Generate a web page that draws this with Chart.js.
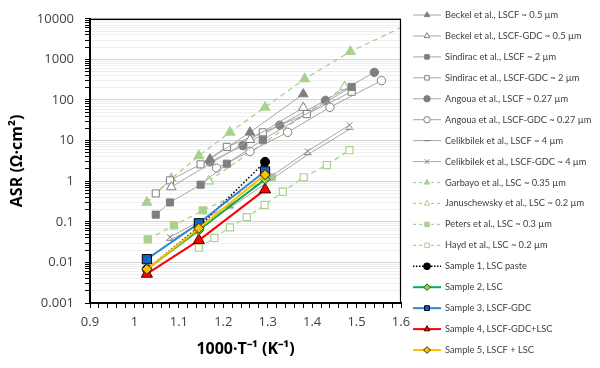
<!DOCTYPE html>
<html><head><meta charset="utf-8">
<script src="https://cdn.jsdelivr.net/npm/chart.js@4.4.1/dist/chart.umd.min.js"></script>
<style>html,body{margin:0;padding:0;background:#fff}canvas{display:block}</style>
</head><body>
<canvas id="c" width="600" height="368"></canvas>
<script>
// ---- data ----
const xTickLabels = ['0.9', '1', '1.1', '1.2', '1.3', '1.4', '1.5', '1.6'];
const yTickLabels = ['0.001', '0.01', '0.1', '1', '10', '100', '1000', '10000'];

const seriesNames = [
  'Beckel et al., LSCF ~ 0.5 µm',
  'Beckel et al., LSCF-GDC ~ 0.5 µm',
  'Sindirac et al., LSCF ~ 2 µm',
  'Sindirac et al., LSCF-GDC ~ 2 µm',
  'Angoua et al., LSCF ~ 0.27 µm',
  'Angoua et al., LSCF-GDC ~ 0.27 µm',
  'Celikbilek et al., LSCF ~ 4 µm',
  'Celikbilek et al., LSCF-GDC ~ 4 µm',
  'Garbayo et al., LSC ~ 0.35 µm',
  'Januschewsky et al., LSC ~ 0.2 µm',
  'Peters et al., LSC ~ 0.3 µm',
  'Hayd et al., LSC ~ 0.2 µm',
  'Sample 1, LSC paste',
  'Sample 2, LSC',
  'Sample 3, LSCF-GDC',
  'Sample 4, LSCF-GDC+LSC',
  'Sample 5, LSCF + LSC'
];

const beckelLscfX = [1.17, 1.26, 1.38];
const beckelLscfY = [3.5, 16, 140];
const beckelGdcX = [1.083, 1.26, 1.38];
const beckelGdcY = [0.72, 10.5, 65];
const sindiracLscfX = [1.048, 1.08, 1.149, 1.208, 1.289, 1.489];
const sindiracLscfY = [0.15, 0.3, 0.82, 2.7, 10.5, 210];
const sindiracGdcX = [1.048, 1.08, 1.149, 1.208, 1.289, 1.388, 1.489];
const sindiracGdcY = [0.5, 1.05, 2.6, 7, 16, 45, 160];
const angouaLscfX = [1.17, 1.244, 1.327, 1.43, 1.54];
const angouaLscfY = [3, 7.5, 24, 98, 480];
const angouaGdcX = [1.185, 1.26, 1.345, 1.44, 1.556];
const angouaGdcY = [2.1, 5.4, 16, 66, 300];
const celikLscfX = [1.08, 1.215, 1.39, 1.484];
const celikLscfY = [0.035, 0.22, 4.5, 19];
const celikGdcX = [1.08, 1.215, 1.39, 1.484];
const celikGdcY = [0.042, 0.26, 5.5, 24];
const garbayoX = [1.028, 1.083, 1.145, 1.215, 1.294, 1.383, 1.486, 1.65];
const garbayoY = [0.3, 1.15, 4.2, 16, 66, 330, 1550, 11000];
const januschX = [1.167, 1.473];
const januschY = [1.0, 210];
const petersX = [1.03, 1.089, 1.154, 1.309];
const petersY = [0.037, 0.082, 0.19, 1.25];
const haydX = [1.145, 1.18, 1.215, 1.253, 1.293, 1.334, 1.381, 1.433, 1.484];
const haydY = [0.023, 0.04, 0.073, 0.13, 0.26, 0.55, 1.25, 2.5, 5.8];
const sampleX = [1.028, 1.145, 1.294];
const sample1Y = [0.0068, 0.075, 3.0];
const sample2Y = [0.0068, 0.062, 1.12];
const sample3Y = [0.012, 0.092, 1.75];
const sample4Y = [0.0052, 0.035, 0.62];
const sample5Y = [0.0068, 0.069, 1.45];

// ---- styling ----
const pts = (xs, ys) => xs.map((x, i) => ({x, y: ys[i]}));
const GRAY = '#7f7f7f', GLINE = '#a6a6a6', GREEN = '#a9d18e';
function gray(label, xs, ys, style, hollow, r) {
  return {label, data: pts(xs, ys), showLine: true, borderColor: GLINE, borderWidth: 1,
    pointStyle: style, pointRadius: r, pointBackgroundColor: hollow ? '#ffffff' : GRAY,
    pointBorderColor: GRAY, pointBorderWidth: 1, order: 10, legendRadius: 3.2, legendLine: 1};
}
function green(label, xs, ys, style, hollow, r) {
  return {label, data: pts(xs, ys), showLine: true, borderColor: GREEN, borderWidth: 1.3,
    borderDash: [5, 4], pointStyle: style, pointRadius: r,
    pointBackgroundColor: hollow ? '#ffffff' : GREEN, pointBorderColor: GREEN, pointBorderWidth: 1.2,
    order: 10, legendRadius: 3.2, legendLine: 1.2};
}
function sample(label, ys, line, fill, border, style, r, order, dash) {
  return {label, data: pts(sampleX, ys), showLine: true, borderColor: line, borderWidth: dash ? 1.5 : 2,
    borderDash: dash || [], pointStyle: style, pointRadius: r, pointBackgroundColor: fill,
    pointBorderColor: border, pointBorderWidth: 1, order, legendRadius: 3.4, legendLine: dash ? 1.5 : 2};
}

const datasets = [
  gray(seriesNames[0], beckelLscfX, beckelLscfY, 'triangle', false, 5.5),
  gray(seriesNames[1], beckelGdcX, beckelGdcY, 'triangle', true, 5.5),
  gray(seriesNames[2], sindiracLscfX, sindiracLscfY, 'rect', false, 5),
  gray(seriesNames[3], sindiracGdcX, sindiracGdcY, 'rect', true, 5),
  gray(seriesNames[4], angouaLscfX, angouaLscfY, 'circle', false, 4.2),
  gray(seriesNames[5], angouaGdcX, angouaGdcY, 'circle', true, 4.2),
  gray(seriesNames[6], celikLscfX, celikLscfY, 'line', false, 4),
  gray(seriesNames[7], celikGdcX, celikGdcY, 'crossRot', false, 4),
  green(seriesNames[8], garbayoX, garbayoY, 'triangle', false, 5.5),
  green(seriesNames[9], januschX, januschY, 'triangle', true, 5.5),
  green(seriesNames[10], petersX, petersY, 'rect', false, 5),
  green(seriesNames[11], haydX, haydY, 'rect', true, 5),
  sample(seriesNames[12], sample1Y, '#000000', '#000000', '#000000', 'circle', 4.5, 5, [1.5, 2]),
  sample(seriesNames[13], sample2Y, '#00b050', '#92d050', '#2d5a1b', 'rectRot', 5, 1),
  sample(seriesNames[14], sample3Y, '#2e86d1', '#1565c0', '#000000', 'rect', 6.5, 3),
  sample(seriesNames[15], sample4Y, '#ff0000', '#ff0000', '#400000', 'triangle', 6.5, 2),
  sample(seriesNames[16], sample5Y, '#ffc000', '#ffc000', '#3a2c00', 'rectRot', 5, 0)
];

// ---- plugins: plot frame and side legend ----
const framePlugin = {
  id: 'frame',
  afterDraw(chart) {
    const {ctx, chartArea: a} = chart;
    ctx.save();
    ctx.strokeStyle = '#000'; ctx.lineWidth = 1.2;
    ctx.beginPath();
    ctx.moveTo(a.left, a.top + 0.5); ctx.lineTo(a.right - 0.5, a.top + 0.5); ctx.lineTo(a.right - 0.5, a.bottom);
    ctx.stroke();
    ctx.restore();
  }
};
function legendFont(ctx) {
  // largest Lato size whose longest label fits the reference width (~143 px)
  const longest = seriesNames.reduce((a, b) => (a.length > b.length ? a : b));
  for (let s = 11; s >= 8; s -= 0.25) {
    ctx.font = s + 'px Lato';
    if (ctx.measureText(longest).width <= 145) return s + 'px Lato';
  }
  return '8px Lato';
}
const legendPlugin = {
  id: 'sideLegend',
  afterDraw(chart) {
    const ctx = chart.ctx;
    const a = chart.chartArea;
    const x0 = a.right + 12, x1 = a.right + 40, xm = (x0 + x1) / 2, tx = a.right + 44;
    ctx.save();
    const font = legendFont(ctx);
    ctx.restore();
    chart.data.datasets.forEach((ds, i) => {
      const y = 15 + i * 20.94;
      ctx.save();
      ctx.strokeStyle = ds.borderColor; ctx.lineWidth = ds.legendLine;
      ctx.setLineDash(ds.borderDash && ds.borderDash.length ? [3, 3] : []);
      if (ds.borderDash && ds.borderDash.length && ds.borderDash[0] < 2) ctx.setLineDash([1.5, 1.5]);
      ctx.beginPath(); ctx.moveTo(x0, y); ctx.lineTo(x1, y); ctx.stroke();
      ctx.setLineDash([]);
      ctx.fillStyle = ds.pointBackgroundColor; ctx.strokeStyle = ds.pointBorderColor; ctx.lineWidth = 1;
      Chart.helpers.drawPoint(ctx, {pointStyle: ds.pointStyle, radius: ds.legendRadius, rotation: 0, borderWidth: 1}, xm, y);
      ctx.fillStyle = '#404040';
      ctx.font = font;
      ctx.textBaseline = 'middle'; ctx.textAlign = 'left';
      ctx.fillText(ds.label, tx, y);
      ctx.restore();
    });
  }
};

const isDecade = v => { const l = Math.log10(v); return Math.abs(l - Math.round(l)) < 1e-6; };

new Chart(document.getElementById('c'), {
  type: 'scatter',
  data: {datasets},
  options: {
    responsive: false, animation: false, devicePixelRatio: 1,
    layout: {padding: {top: 13, right: 199, bottom: 0, left: 0}},
    plugins: {legend: {display: false}, tooltip: {enabled: false}},
    elements: {line: {tension: 0}},
    scales: {
      x: {
        type: 'linear', min: 0.9, max: 1.6, position: 'bottom',
        afterFit: s => { s.height = 65; },
        border: {color: '#000', width: 2},
        grid: {drawOnChartArea: false, drawTicks: true, tickLength: 5, tickColor: '#000', color: '#000'},
        ticks: {
          stepSize: 0.02, autoSkip: false, maxRotation: 0, padding: 6, maxTicksLimit: 100,
          color: '#404040', font: {family: 'Open Sans', size: 13},
          callback: v => { const k = Math.round(v * 50); if (k % 5 !== 0) return ''; return xTickLabels[Math.round((v - 0.9) * 10)]; }
        },
        title: {display: true, text: '1000·T⁻¹ (K⁻¹)', color: '#000', font: {family: 'Open Sans', size: 16, weight: 'bold'}, padding: {top: 0, bottom: 9}}
      },
      y: {
        type: 'logarithmic', min: 0.001, max: 10000,
        afterFit: s => { s.width = 90; },
        afterBuildTicks: s => {
          s.ticks = s.ticks.filter(t => { const m = t.value / Math.pow(10, Math.floor(Math.log10(t.value) + 1e-9)); return Math.abs(m - 1.5) > 1e-6; });
        },
        border: {color: '#000', width: 2},
        grid: {drawTicks: true, tickLength: 5, tickColor: '#000',
          color: c => (c.tick && isDecade(c.tick.value)) ? '#d2d2d2' : '#efefef', lineWidth: 1},
        ticks: {
          autoSkip: false, padding: 11, color: '#404040', font: {family: 'Open Sans', size: 13},
          callback: v => isDecade(v) ? yTickLabels[Math.round(Math.log10(v)) + 3] : ''
        },
        title: {display: true, text: 'ASR (Ω·cm²)', color: '#000', font: {family: 'Open Sans', size: 16, weight: 'bold'}, padding: {top: 8, bottom: 0}}
      }
    }
  },
  plugins: [framePlugin, legendPlugin]
});
</script>
</body></html>
